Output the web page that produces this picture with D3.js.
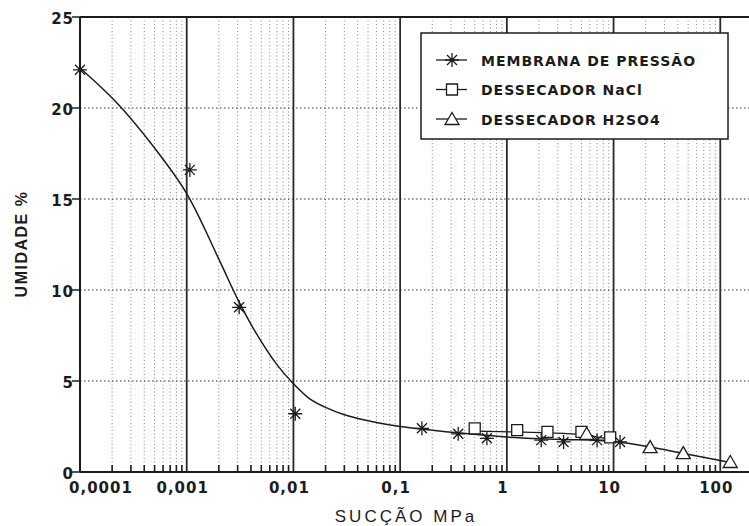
<!DOCTYPE html>
<html>
<head>
<meta charset="utf-8">
<script src="https://cdn.jsdelivr.net/npm/d3@7"></script>
<style>
  body { margin: 0; background: #fff; }
  svg { display: block; overflow: hidden; }
</style>
</head>
<body>
<script>
// values (succao in MPa, umidade in %)
var membranaX = [0.0001, 0.00107, 0.0031, 0.0104, 0.16, 0.35, 0.65, 2.1, 3.4, 7.0, 11.5];
var membranaY = [22.1, 16.6, 9.05, 3.2, 2.4, 2.1, 1.85, 1.75, 1.65, 1.75, 1.65];

var naclX = [0.5, 1.25, 2.4, 5.0, 9.3];
var naclY = [2.4, 2.3, 2.2, 2.2, 1.9];

var h2so4X = [5.6, 22, 45, 124];
var h2so4Y = [2.1, 1.37, 1.04, 0.55];

// fitted curves as drawn in the figure
var curveX = [0.0001, 0.00022, 0.0005, 0.001, 0.002, 0.003, 0.0045, 0.007, 0.01, 0.014, 0.02, 0.03, 0.06, 0.1, 0.35, 1, 3, 10, 22, 45, 124];
var curveY = [22.2, 20.3, 17.8, 15.3, 11.7, 9.5, 7.6, 5.9, 4.85, 4.05, 3.55, 3.15, 2.72, 2.5, 2.15, 1.92, 1.8, 1.68, 1.37, 1.02, 0.52];
var naclFitX = [0.5, 1.2, 2.4, 5, 10];
var naclFitY = [2.25, 2.2, 2.15, 2.05, 1.75];

var xTicks = [0.0001, 0.001, 0.01, 0.1, 1, 10, 100];
var xTickLabels = ["0,0001", "0,001", "0,01", "0,1", "1", "10", "100"];
var yTicks = [0, 5, 10, 15, 20, 25];

var legendNames = ["MEMBRANA DE PRESSÃO", "DESSECADOR NaCl", "DESSECADOR H2SO4"];
var legendSymbols = ["star", "square", "triangle"];

var width = 749, height = 526;
var ink = "#1c1c1c";

var svg = d3.select("body").append("svg")
  .attr("width", width)
  .attr("height", height);

var x = d3.scaleLog().domain([0.0001, 1000]).range([80, 827]);
var y = d3.scaleLinear().domain([0, 25]).range([472, 17]);

// minor grid (2..9 of each decade)
var minor = [];
for (var e = -4; e < 3; e++) {
  for (var m = 2; m <= 9; m++) minor.push(m * Math.pow(10, e));
}

svg.append("g").selectAll("line")
  .data(minor)
  .enter().append("line")
  .attr("x1", d => x(d)).attr("x2", d => x(d))
  .attr("y1", y(25)).attr("y2", y(0))
  .attr("stroke", "#8a8a8a")
  .attr("stroke-width", 1)
  .attr("stroke-dasharray", "1,2.5");

// horizontal grid
svg.append("g").selectAll("line")
  .data(yTicks.slice(1, -1))
  .enter().append("line")
  .attr("x1", x(0.0001)).attr("x2", width)
  .attr("y1", d => y(d)).attr("y2", d => y(d))
  .attr("stroke", "#333")
  .attr("stroke-width", 1)
  .attr("stroke-dasharray", "1.5,2.5");

// decade lines
svg.append("g").selectAll("line")
  .data(xTicks.slice(1))
  .enter().append("line")
  .attr("x1", d => x(d)).attr("x2", d => x(d))
  .attr("y1", y(25)).attr("y2", y(0))
  .attr("stroke", "#2a2a2a")
  .attr("stroke-width", 1.8);

// frame: top, left, bottom
svg.append("line")
  .attr("x1", x(0.0001)).attr("x2", width)
  .attr("y1", y(25)).attr("y2", y(25))
  .attr("stroke", ink).attr("stroke-width", 2);
svg.append("line")
  .attr("x1", x(0.0001)).attr("x2", x(0.0001))
  .attr("y1", y(25)).attr("y2", y(0))
  .attr("stroke", ink).attr("stroke-width", 2);
svg.append("line")
  .attr("x1", x(0.0001)).attr("x2", width)
  .attr("y1", y(0)).attr("y2", y(0))
  .attr("stroke", ink).attr("stroke-width", 2.2);

// bottom minor ticks
svg.append("g").selectAll("line")
  .data(minor)
  .enter().append("line")
  .attr("x1", d => x(d)).attr("x2", d => x(d))
  .attr("y1", y(0)).attr("y2", y(0) - 7)
  .attr("stroke", ink)
  .attr("stroke-width", 1.6);

// left ticks
svg.append("g").selectAll("line")
  .data(yTicks)
  .enter().append("line")
  .attr("x1", x(0.0001) - 8).attr("x2", x(0.0001))
  .attr("y1", d => y(d)).attr("y2", d => y(d))
  .attr("stroke", ink)
  .attr("stroke-width", 1.5);

// tick labels
svg.append("g").selectAll("text")
  .data(yTicks)
  .enter().append("text")
  .attr("x", 74)
  .attr("y", d => y(d) + 7)
  .attr("text-anchor", "end")
  .style("font-family", "DejaVu Sans")
  .style("font-weight", "bold")
  .style("font-size", "15px")
  .style("letter-spacing", "1px")
  .attr("fill", ink)
  .text(d => d);

svg.append("g").selectAll("text")
  .data(xTicks)
  .enter().append("text")
  .attr("x", d => x(d))
  .attr("dx", (d, i) => i === 0 ? 21 : -4)
  .attr("y", 493)
  .attr("text-anchor", "middle")
  .style("font-family", "DejaVu Sans")
  .style("font-weight", "bold")
  .style("font-size", "15px")
  .style("letter-spacing", "1px")
  .attr("fill", ink)
  .text((d, i) => xTickLabels[i]);

// axis titles
svg.append("text")
  .attr("x", 406)
  .attr("y", 522)
  .attr("text-anchor", "middle")
  .style("font-family", "Liberation Sans")
  .style("font-size", "17px")
  .style("letter-spacing", "3px")
  .attr("fill", ink)
  .text("SUCÇÃO MPa");

svg.append("text")
  .attr("transform", "translate(27,244) rotate(-90)")
  .attr("text-anchor", "middle")
  .style("font-family", "Liberation Sans")
  .style("font-weight", "bold")
  .style("font-size", "16px")
  .style("letter-spacing", "1.5px")
  .attr("fill", ink)
  .text("UMIDADE %");

// markers
function symbolPath(kind) {
  if (kind === "star") {
    return "M-7,0H7M0,-7V7M-5,-5L5,5M-5,5L5,-5";
  } else if (kind === "square") {
    return "M-5.5,-5.5H5.5V5.5H-5.5Z";
  }
  return "M0,-6.5L7,5.5H-7Z";
}

// legend box
var lg = svg.append("g");
lg.append("rect")
  .attr("x", 421).attr("y", 33)
  .attr("width", 307).attr("height", 106)
  .attr("fill", "#fff")
  .attr("stroke", ink)
  .attr("stroke-width", 1.5);

var rows = lg.selectAll(".row")
  .data(legendNames)
  .enter().append("g")
  .attr("class", "row")
  .attr("transform", (d, i) => "translate(0," + (60 + i * 29.5) + ")");

rows.append("line")
  .attr("x1", 436).attr("x2", 467)
  .attr("stroke", ink).attr("stroke-width", 1.3);
rows.append("path")
  .attr("transform", "translate(452,0)")
  .attr("d", (d, i) => symbolPath(legendSymbols[i]))
  .attr("fill", (d, i) => legendSymbols[i] === "star" ? "none" : "#fff")
  .attr("stroke", ink).attr("stroke-width", 1.3);
rows.append("text")
  .attr("x", 481).attr("y", 5.5)
  .style("font-family", "DejaVu Sans")
  .style("font-weight", "bold")
  .style("font-size", "14px")
  .style("letter-spacing", "1px")
  .attr("fill", ink)
  .text(d => d);

// fitted lines
var line = d3.line()
  .x(d => x(d[0]))
  .y(d => y(d[1]))
  .curve(d3.curveCatmullRom.alpha(0.5));

svg.append("path")
  .attr("d", line(d3.zip(curveX, curveY)))
  .attr("fill", "none")
  .attr("stroke", ink)
  .attr("stroke-width", 1.5);

svg.append("path")
  .attr("d", line(d3.zip(naclFitX, naclFitY)))
  .attr("fill", "none")
  .attr("stroke", ink)
  .attr("stroke-width", 1.3);

function drawPoints(xs, ys, kind) {
  svg.append("g").selectAll("path")
    .data(d3.zip(xs, ys))
    .enter().append("path")
    .attr("transform", d => "translate(" + x(d[0]) + "," + y(d[1]) + ")")
    .attr("d", symbolPath(kind))
    .attr("fill", kind === "star" ? "none" : "#fff")
    .attr("stroke", ink)
    .attr("stroke-width", 1.3);
}

drawPoints(naclX, naclY, "square");
drawPoints(h2so4X, h2so4Y, "triangle");
drawPoints(membranaX, membranaY, "star");
</script>
</body>
</html>
